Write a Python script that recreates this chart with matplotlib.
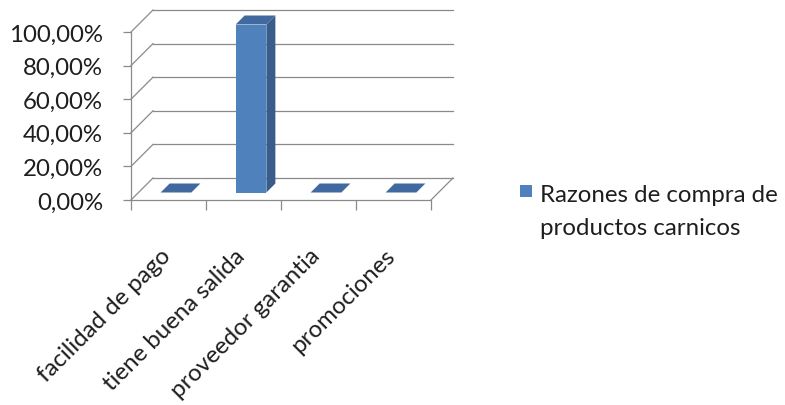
import matplotlib
matplotlib.use('Agg')
import matplotlib.pyplot as plt
from matplotlib.patches import Polygon, Rectangle
from matplotlib.transforms import ScaledTranslation

categories = ['facilidad de pago', 'tiene buena salida', 'proveedor garantia', 'promociones']
values = [0.0, 1.0, 0.0, 0.0]
series_name = 'Razones de compra de\nproductos carnicos'
yticks = [0.0, 0.2, 0.4, 0.6, 0.8, 1.0]

plt.rcParams['font.family'] = ['Lato', 'DejaVu Sans']
fs = 17.3
txt = '#1e1e1e'
grid = '#8a8a8a'
c_front = '#4f81bd'
c_side = '#385d8a'
c_top = '#4069a0'

fig = plt.figure(figsize=(7.85, 4.06), dpi=100)
ax = fig.add_axes([131 / 785, (406 - 201) / 406, 300 / 785, 168 / 406])
ax.set_xlim(-0.5, len(categories) - 0.5)
ax.set_ylim(0, 1)

DEPTH = 22  # pixels of the oblique depth
d0, d1 = 7.5, 16.5  # depth range of the bars
bw = 0.41


def shift(x, y, d):
    # point on the front plane pushed back by d pixels
    px, py = ax.transData.transform((x, y))
    return ax.transData.inverted().transform((px + d, py + d))


x_lo, x_hi = ax.get_xlim()
# back wall gridlines and left wall diagonals
for v in yticks:
    a = shift(x_lo, v, DEPTH)
    b = shift(x_hi, v, DEPTH)
    ax.plot([a[0], b[0]], [a[1], b[1]], color=grid, lw=0.9, clip_on=False, zorder=1)
    c = shift(x_lo, v, 0)
    ax.plot([c[0], a[0]], [c[1], a[1]], color=grid, lw=0.9, clip_on=False, zorder=1)
# right floor edge
a = shift(x_hi, 0, 0)
b = shift(x_hi, 0, DEPTH)
ax.plot([a[0], b[0]], [a[1], b[1]], color=grid, lw=0.9, clip_on=False, zorder=1)

# bars
for i, v in enumerate(values):
    x0, x1 = i - bw / 2, i + bw / 2
    if v > 0:
        front = [shift(x0, 0, d0), shift(x1, 0, d0), shift(x1, v, d0), shift(x0, v, d0)]
        side = [shift(x1, 0, d0), shift(x1, 0, d1), shift(x1, v, d1), shift(x1, v, d0)]
        ax.add_patch(Polygon(side, closed=True, facecolor=c_side, edgecolor='none', clip_on=False, zorder=3))
        ax.add_patch(Polygon(front, closed=True, facecolor=c_front, edgecolor='none', clip_on=False, zorder=3))
    top = [shift(x0, v, d0), shift(x1, v, d0), shift(x1, v, d1), shift(x0, v, d1)]
    ax.add_patch(Polygon(top, closed=True, facecolor=c_top, edgecolor='none', clip_on=False, zorder=3))

# axes
for s in ['top', 'right']:
    ax.spines[s].set_visible(False)
for s in ['left', 'bottom']:
    ax.spines[s].set_color(grid)
    ax.spines[s].set_linewidth(0.9)
ax.set_facecolor('none')

ax.set_yticks(yticks)
ax.set_yticklabels([f'{v * 100:.2f}%'.replace('.', ',') for v in yticks])
ax.tick_params(axis='y', length=6, width=0.9, color=grid, pad=14, labelsize=fs, labelcolor=txt)

ax.set_xticks(range(len(categories)))
ax.set_xticks([i - 0.5 for i in range(len(categories) + 1)], minor=True)
ax.set_xticklabels(categories, rotation=45, ha='right', va='top', rotation_mode='anchor')
ax.tick_params(axis='x', which='major', length=0, pad=32, labelsize=fs, labelcolor=txt)
ax.tick_params(axis='x', which='minor', length=7, width=0.9, color=grid)
nudge = ScaledTranslation(-0.09, 0.0, fig.dpi_scale_trans)
for lab in ax.get_xticklabels():
    lab.set_transform(lab.get_transform() + nudge)

# legend box drawn by hand so the swatch sits on the first line
fig.add_artist(Rectangle((520 / 785, (406 - 198) / 406), 12 / 785, 12 / 406,
                         transform=fig.transFigure, facecolor=c_front, edgecolor='none'))
fig.text(540 / 785, (406 - 185) / 406, series_name, ha='left', va='top',
         fontsize=fs, color=txt, linespacing=1.7)

fig.savefig('out.png', dpi=100)
